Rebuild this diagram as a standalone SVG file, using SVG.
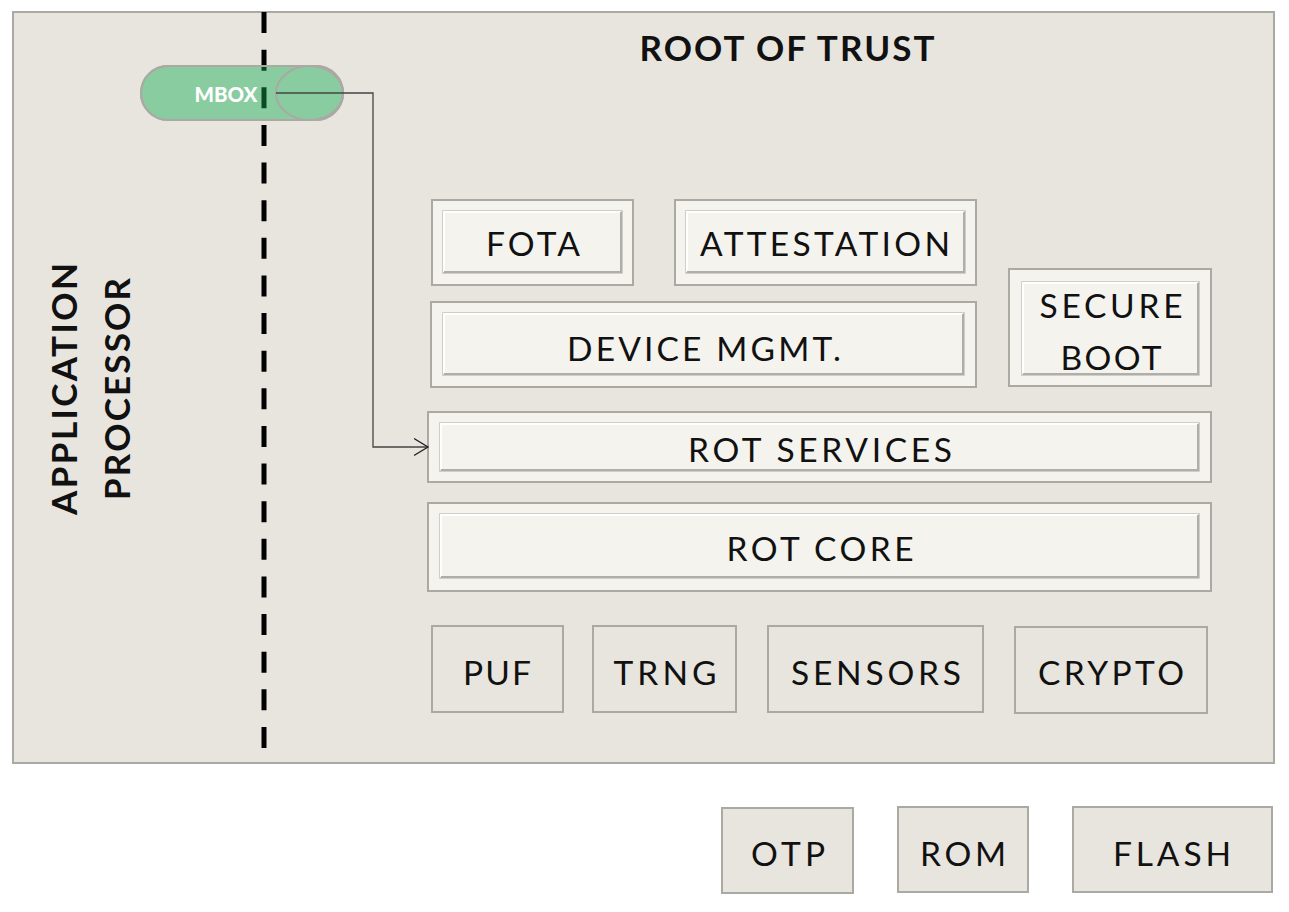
<svg xmlns="http://www.w3.org/2000/svg" width="1289" height="912" viewBox="0 0 1289 912">
<style>
  .lbl { font-family: Lato, "Liberation Sans", sans-serif; font-size: 33.5px; fill: #111; text-anchor: middle; }
  .bold { font-family: Lato, "Liberation Sans", sans-serif; font-weight: bold; fill: #111; text-anchor: middle; }
  .outer { fill: #f5f3ee; stroke: #aaa9a4; stroke-width: 2; }
  .inner { fill: #f5f3ee; stroke: #c4c2bc; stroke-width: 1.5; }
  .hl { fill: none; stroke: #ffffff; stroke-width: 2; }
  .sh { fill: none; stroke: #b0aea8; stroke-width: 2; }
  .plain { fill: #e8e5df; stroke: #aaa9a4; stroke-width: 2; }
  .conn { fill: none; stroke: #444; stroke-width: 1.3; }
</style>
<defs>
  <marker id="arr" markerUnits="userSpaceOnUse" markerWidth="18" markerHeight="20" refX="14" refY="9" orient="auto">
    <path d="M0,0.5 L14,9 L0,17.5" fill="none" stroke="#222" stroke-width="1.3"/>
  </marker>
  <clipPath id="pillClip"><rect x="141" y="66" width="202" height="54" rx="27"/></clipPath>
</defs>
<rect width="1289" height="912" fill="#ffffff"/>
<g id="root-of-trust">
  <rect x="13" y="12" width="1261" height="751" fill="#e8e5df" stroke="#aaa9a4" stroke-width="2"/>
  <text class="bold" x="787" y="61" font-size="35" textLength="295" lengthAdjust="spacing">ROOT OF TRUST</text>
</g>
<g id="app-processor">
  <text class="bold" font-size="35" transform="translate(77,389) rotate(-90)" x="0" y="0" textLength="252" lengthAdjust="spacing">APPLICATION</text>
  <text class="bold" font-size="35" transform="translate(130,389) rotate(-90)" x="0" y="0" textLength="222" lengthAdjust="spacing">PROCESSOR</text>
</g>
<g id="boundary">
  <line x1="264" y1="12" x2="264" y2="748" stroke="#000" stroke-width="5" stroke-dasharray="21 16.63"/>
</g>
<g id="mbox">
  <rect x="141" y="66" width="202" height="54" rx="27" fill="#88cca0" stroke="#aaa9a4" stroke-width="2"/>
  <line x1="264" y1="12" x2="264" y2="748" stroke="#0b4a22" stroke-width="5" stroke-dasharray="21 16.63" clip-path="url(#pillClip)"/>
  <ellipse cx="309.5" cy="93" rx="33.5" ry="27" fill="none" stroke="#aaa9a4" stroke-width="2"/>
  <rect x="141" y="66" width="202" height="54" rx="27" fill="none" stroke="#aaa9a4" stroke-width="2"/>
  <text x="226" y="102" font-family="Lato, 'Liberation Sans', sans-serif" font-weight="900" font-size="21" fill="#ffffff" text-anchor="middle" textLength="63" lengthAdjust="spacingAndGlyphs">MBOX</text>
</g>
<g id="fota">
  <rect class="outer" x="432" y="200" width="201" height="85"/>
  <rect class="inner" x="443" y="211" width="179" height="62"/>
  <polyline class="hl" points="444,272 444,212 621,212"/>
  <polyline class="sh" points="444,272 621,272 621,212"/>
  <text class="lbl" x="533" y="256" textLength="94" lengthAdjust="spacing">FOTA</text>
</g>
<g id="attestation">
  <rect class="outer" x="675" y="200" width="301" height="85"/>
  <rect class="inner" x="686" y="211" width="279" height="62"/>
  <polyline class="hl" points="687,272 687,212 964,212"/>
  <polyline class="sh" points="687,272 964,272 964,212"/>
  <text class="lbl" x="825" y="256" textLength="250" lengthAdjust="spacing">ATTESTATION</text>
</g>
<g id="device-mgmt">
  <rect class="outer" x="431" y="302" width="545" height="85"/>
  <rect class="inner" x="443" y="313" width="521" height="62"/>
  <polyline class="hl" points="444,374 444,314 963,314"/>
  <polyline class="sh" points="444,374 963,374 963,314"/>
  <text class="lbl" x="704" y="361" textLength="274" lengthAdjust="spacing">DEVICE MGMT.</text>
</g>
<g id="secure-boot">
  <rect class="outer" x="1009" y="269" width="202" height="117"/>
  <rect class="inner" x="1022" y="282" width="177" height="93"/>
  <polyline class="hl" points="1023,374 1023,283 1198,283"/>
  <polyline class="sh" points="1023,374 1198,374 1198,283"/>
  <text class="lbl" x="1111" y="318" textLength="143" lengthAdjust="spacing">SECURE</text>
  <text class="lbl" x="1111" y="370" textLength="101" lengthAdjust="spacing">BOOT</text>
</g>
<g id="rot-services">
  <rect class="outer" x="428" y="412" width="783" height="70"/>
  <rect class="inner" x="440" y="423" width="759" height="48"/>
  <polyline class="hl" points="441,470 441,424 1198,424"/>
  <polyline class="sh" points="441,470 1198,470 1198,424"/>
  <text class="lbl" x="820" y="462" textLength="264" lengthAdjust="spacing">ROT SERVICES</text>
</g>
<g id="rot-core">
  <rect class="outer" x="428" y="503" width="783" height="88"/>
  <rect class="inner" x="440" y="514" width="759" height="64"/>
  <polyline class="hl" points="441,577 441,515 1198,515"/>
  <polyline class="sh" points="441,577 1198,577 1198,515"/>
  <text class="lbl" x="820" y="561" textLength="187" lengthAdjust="spacing">ROT CORE</text>
</g>
<g id="puf">
  <rect class="plain" x="432" y="626" width="131" height="86"/>
  <text class="lbl" x="497" y="685" textLength="68" lengthAdjust="spacing">PUF</text>
</g>
<g id="trng">
  <rect class="plain" x="593" y="626" width="143" height="86"/>
  <text class="lbl" x="665" y="685" textLength="103" lengthAdjust="spacing">TRNG</text>
</g>
<g id="sensors">
  <rect class="plain" x="768" y="626" width="215" height="86"/>
  <text class="lbl" x="876" y="685" textLength="170" lengthAdjust="spacing">SENSORS</text>
</g>
<g id="crypto">
  <rect class="plain" x="1015" y="627" width="192" height="86"/>
  <text class="lbl" x="1111" y="685" textLength="146" lengthAdjust="spacing">CRYPTO</text>
</g>
<g id="otp">
  <rect class="plain" x="722" y="808" width="131" height="85"/>
  <text class="lbl" x="788" y="866" textLength="74" lengthAdjust="spacing">OTP</text>
</g>
<g id="rom">
  <rect class="plain" x="898" y="807" width="130" height="85"/>
  <text class="lbl" x="963" y="866" textLength="86" lengthAdjust="spacing">ROM</text>
</g>
<g id="flash">
  <rect class="plain" x="1073" y="807" width="199" height="85"/>
  <text class="lbl" x="1172" y="866" textLength="118" lengthAdjust="spacing">FLASH</text>
</g>
<g id="connectors">
  <polyline class="conn" points="276,93 373,93 373,447 428,447" marker-end="url(#arr)"/>
</g>
</svg>
